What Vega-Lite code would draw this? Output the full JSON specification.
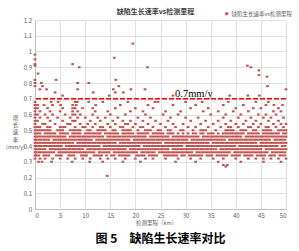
{
  "$schema": "https://vega.github.io/schema/vega-lite/v6.json",
  "width": 251,
  "height": 189,
  "autosize": {"type": "none"},
  "padding": {"left": 35, "top": 20, "right": 13, "bottom": 42},
  "background": "white",
  "title": {"text": "图 5　缺陷生长速率对比", "orient": "bottom", "anchor": "middle", "fontSize": 12, "fontWeight": "bold", "font": "Noto Sans CJK SC", "color": "#000000", "offset": 8},
  "config": {
    "view": {"stroke": null},
    "axis": {"gridColor": "#d9d9d9", "gridWidth": 0.8, "domainColor": "#bfbfbf", "ticks": false, "labelFont": "Noto Sans CJK SC", "labelFontSize": 6, "labelColor": "#595959", "titleFont": "Noto Sans CJK SC", "titleFontSize": 5.5, "titleColor": "#595959", "titleFontWeight": "normal"},
    "legend": {"labelFont": "Noto Sans CJK SC"}
  },
  "resolve": {"axis": {"x": "independent", "y": "independent"}},
  "layer": [
    {
      "data": {"values": [
        {"v": 0.46, "km": [0,0.5,1,1.5,2,2.5,3,3.5,4,4.5,5,5.5,6,7,7.5,8,8.5,9,9.5,10,10.5,11,11.5,12,12.5,13,13.5,14.5,15,15.5,16,16.5,17,17.5,18,18.5,19,19.5,20,20.5,21,21.5,22,23,23.5,24,24.5,25,25.5,26,26.5,27.5,28,28.5,29,29.5,30,30.5,31,31.5,32,32.5,33.5,34,34.5,35,35.5,36,36.5,37,37.5,38,38.5,39,39.5,40,40.5,41,42,42.5,43,43.5,44,44.5,45,45.5,46,46.5,47,47.5,48,48.5,49,49.5,50]},
        {"v": 0.44, "km": [0,0.25,0.75,1.25,1.75,2.25,2.75,3.75,4.25,4.75,5.25,5.75,6.25,6.75,7.25,7.75,8.25,8.75,9.25,9.75,10.25,10.75,11.25,12.25,12.75,13.25,13.75,14.25,14.75,15.25,15.75,16.25,16.75,17.25,17.75,18.25,18.75,19.75,20.25,20.75,21.25,21.75,22.25,22.75,23.25,23.75,24.25,24.75,25.25,25.75,26.25,26.75,27.25,27.75,28.25,28.75,29.25,29.75,30.25,31.25,31.75,32.25,32.75,33.25,33.75,34.25,34.75,35.25,35.75,36.25,36.75,37.25,37.75,38.75,39.25,39.75,40.25,40.75,41.25,41.75,42.25,42.75,43.25,43.75,44.25,44.75,45.25,45.75,46.25,46.75,47.75,48.25,48.75,49.25,49.75]},
        {"v": 0.42, "km": [0,0.5,1,1.5,2,2.5,3,3.5,4,4.5,5,5.5,6,6.5,7,7.5,8.5,9,9.5,10,10.5,11,11.5,12,12.5,13,13.5,14,14.5,15,15.5,16,17,17.5,18,18.5,19,19.5,20,20.5,21,21.5,22,22.5,23,23.5,24,24.5,25,26,26.5,27,27.5,28,28.5,29,29.5,30,30.5,31,31.5,32,32.5,33,33.5,34,34.5,35.5,36,36.5,37,37.5,38,38.5,39,39.5,40,40.5,41,41.5,42,42.5,43,43.5,44,45,45.5,46,46.5,47,47.5,48,48.5,49,49.5,50]},
        {"v": 0.40, "km": [0,0.25,0.75,1.25,1.75,2.25,2.75,3.25,3.75,4.25,4.75,5.25,6.25,6.75,7.25,7.75,8.25,8.75,9.25,9.75,10.25,10.75,11.25,11.75,12.25,12.75,13.75,14.25,14.75,15.25,15.75,16.25,16.75,17.25,17.75,18.25,18.75,19.25,19.75,20.25,20.75,21.75,22.25,22.75,23.25,23.75,24.25,24.75,25.25,25.75,26.25,26.75,27.25,27.75,28.25,28.75,29.25,30.25,30.75,31.25,31.75,32.25,32.75,33.25,33.75,34.25,34.75,35.25,35.75,36.25,36.75,37.25,37.75,38.25,38.75,39.25,39.75,40.75,41.25,41.75,42.25,42.75,43.25,43.75,44.25,44.75,45.25,45.75,46.25,46.75,47.25,47.75,48.25,49.25,49.75]},
        {"v": 0.38, "km": [0,0.5,1,1.5,2,3,3.5,4,4.5,5,5.5,6,6.5,7,7.5,8,8.5,9,9.5,10.5,11,11.5,12,12.5,13,13.5,14,14.5,15,15.5,16,16.5,17,17.5,18,19,19.5,20,20.5,21,21.5,22,22.5,23,23.5,24,24.5,25,25.5,26,26.5,27.5,28,28.5,29,29.5,30,30.5,31,31.5,32,32.5,33,33.5,34,34.5,35,35.5,36,37,37.5,38,38.5,39,39.5,40,40.5,41,41.5,42,42.5,43,43.5,44,44.5,45,46,46.5,47,47.5,48,48.5,49,49.5,50]},
        {"v": 0.36, "km": [0,0.25,0.75,1.25,1.75,2.25,2.75,3.25,3.75,4.75,5.25,5.75,6.25,6.75,7.25,7.75,8.25,8.75,9.25,9.75,10.25,10.75,11.25,11.75,12.75,13.25,13.75,14.25,14.75,15.75,16.25,16.75,17.25,17.75,18.25,18.75,19.25,19.75,20.25,21.25,21.75,22.25,22.75,23.25,23.75,24.75,25.25,25.75,26.25,26.75,27.25,27.75,28.25,28.75,29.25,29.75,30.25,30.75,31.25,32.25,32.75,33.25,33.75,34.25,34.75,35.25,35.75,36.25,36.75,37.25,37.75,38.25,38.75,39.75,40.25,40.75,41.25,41.75,42.25,42.75,43.25,43.75,44.25,44.75,45.25,45.75,46.25,47.25,47.75,48.25,48.75,49.25,49.75]},
        {"v": 0.48, "km": [0,0.5,1,2,2.5,3,3.5,4,5,5.5,6,6.5,7.5,8,8.5,9,10,10.5,11,11.5,12,12.5,13,14,14.5,15,15.5,16,16.5,17.5,18,18.5,19,19.5,20.5,21,21.5,22,22.5,23.5,24,24.5,25,25.5,26.5,27,27.5,28.5,29.5,30.5,31.5,32,33,33.5,34.5,35,35.5,36.5,37.5,38,38.5,39,39.5,40,40.5,41,41.5,42.5,43,43.5,44,44.5,45.5,46,46.5,47,47.5,48,48.5,49.5,50]},
        {"v": 0.34, "km": [0,0.25,0.75,1.75,2.25,2.75,4.25,4.75,5.25,6.75,7.25,7.75,9.25,9.75,10.25,11.75,12.25,12.75,13.25,14.25,15.25,15.75,16.75,17.25,17.75,18.25,18.75,20.25,20.75,21.25,21.75,22.75,23.25,23.75,24.25,25.75,26.25,26.75,27.25,27.75,28.25,29.25,29.75,30.75,31.25,31.75,32.25,32.75,33.25,34.25,34.75,35.25,36.25,36.75,37.25,37.75,38.25,39.25,39.75,40.25,40.75,41.75,42.25,42.75,43.25,44.25,44.75,45.25,45.75,46.75,47.25,47.75,48.75,49.25,49.75]},
        {"v": 0.50, "km": [0,0.5,1,1.5,2,2.5,3,4.5,5,5.5,7,7.5,8,8.5,9,10.5,11,12.5,13,13.5,14,15.5,16,17.5,18,18.5,19,20.5,22,22.5,23,24.5,25,26.5,27,29,29.5,31.5,33,33.5,34,36,38,38.5,39,39.5,41,41.5,42,43.5,44,45.5,46,46.5,47,48.5,49,49.5,50]},
        {"v": 0.52, "km": [0,0.5,1,2.5,3,5,5.5,6,8,9.5,10,11.5,13,13.5,15,17,17.5,19.5,21,21.5,23.5,26,28,30.5,32,34.5,37,38.5,39,40.5,42.5,43,44.5,46,46.5,48,49.5]},
        {"v": 0.54, "km": [0,1.5,2,4,6.5,7,9,10.5,12,14.5,16,18,18.5,20,22.5,25,27.5,29.5,33,35.5,38,40,41.5,43.5,45,47.5,49,50]},
        {"v": 0.56, "km": [0,0.5,3,5.5,7.5,8,11,13,15.5,17.5,19,21.5,24,26.5,31,34,36.5,39,42,44,46.5,48.5]},
        {"v": 0.58, "km": [0,1,2.5,4.5,7,8.5,10,12.5,14,16.5,20.5,23,27,30,32.5,37.5,40.5,43,45.5,47,49.5]},
        {"v": 0.60, "km": [0,0.5,2,3.5,6,7.5,8,9,11.5,15,18,22,25.5,28.5,35,38,41,44.5,46,48]},
        {"v": 0.62, "km": [0,1,3,5,7.5,8.5,12,14.5,19,21.5,26,29,33.5,36.5,39.5,42.5,47.5,49]},
        {"v": 0.64, "km": [0,0.5,2.5,5.5,7.5,8,9.5,11.5,16,20,23.5,31,34.5,40,43.5,45,48.5]},
        {"v": 0.66, "km": [0,0.5,1.8,3.5,5.1,7.5,8.2,12.1,17,22.5,27.5,32,37.5,41.5,46,47.6,49.3]},
        {"v": 0.68, "km": [0,3.2,4.6,8,8.4,10.7,13.5,18.5,23.9,24.5,30,33.3,38.5,44,46.5]},
        {"v": 0.32, "km": [0,1,2,3.5,5,6.5,8,9.5,11,13,14.5,16,18,20,22,23.5,26,28.5,31,33,35.5,37.5,40,42.5,44,45.5,47,48.5,50]},
        {"v": 0.30, "km": [0.7,1.4,3.3,7.4,10.9,13.5,17.5,21,28,32,36.5,41,45.5,49]},
        {"v": 0.28, "km": [37.5,38.3]},
        {"v": 0.27, "km": [38.0]},
        {"v": 0.21, "km": [14.4]},
        {"v": 0.72, "km": [5.5,14.8,27.5,38.8,42.4,44.7]},
        {"v": 0.74, "km": [4.0,11.6,16.0,17.6]},
        {"v": 0.76, "km": [1.0,2.3,8.5,15.6,19.1,21.9,50]},
        {"v": 0.78, "km": [0,1.5,16.7,46.3]},
        {"v": 0.80, "km": [0,1.26,8.5,10.7]},
        {"v": 0.82, "km": [0,4.2,16.1]},
        {"v": 0.84, "km": [46.2]},
        {"v": 0.85, "km": [44.6]},
        {"v": 0.86, "km": [0.6]},
        {"v": 0.88, "km": [44.6]},
        {"v": 0.90, "km": [8.8,22.4,43.0]},
        {"v": 0.91, "km": [0,42.3]},
        {"v": 0.92, "km": [0,7.5]},
        {"v": 0.95, "km": [0]},
        {"v": 0.96, "km": [15.8]},
        {"v": 0.98, "km": [0]},
        {"v": 1.05, "km": [19.5]}
      ]},
      "transform": [{"flatten": ["km"]}],
      "mark": {"type": "point", "shape": "M-1.35,-1H1.35V1H-1.35Z", "filled": true, "size": 4, "opacity": 1, "strokeWidth": 0},
      "encoding": {
        "x": {"field": "km", "type": "quantitative", "scale": {"domain": [0, 50], "nice": false},
          "axis": {"orient": "bottom", "values": [0,5,10,15,20,25,30,35,40,45,50], "grid": true, "labelPadding": 3, "title": "检测里程（km）", "titleX": 121, "titlePadding": 2}},
        "y": {"field": "v", "type": "quantitative", "scale": {"domain": [0, 1.2], "nice": false},
          "axis": {"values": [0,0.1,0.2,0.3,0.4,0.5,0.6,0.7,0.8,0.9,1,1.1,1.2], "format": ".2~f", "grid": true, "labelPadding": 3.5,
            "title": ["增", "长", "速", "率", "(mm/y)"], "titleAngle": 0, "titleAlign": "center", "titleBaseline": "bottom", "titleX": -20, "titleY": 100, "titleLineHeight": 7.4, "titleFontSize": 5.5}},
        "color": {"datum": "缺陷生长速率vs检测里程", "scale": {"range": ["#c0504d"]},
          "legend": {"orient": "none", "legendX": 189, "legendY": -9, "title": null, "padding": 0, "symbolType": "square", "symbolSize": 8, "symbolStrokeWidth": 0, "labelFontSize": 5.5, "labelColor": "#595959", "labelOffset": 2}}
      }
    },
    {
      "data": {"values": [{"v": 0.7}]},
      "mark": {"type": "rule", "color": "#ff0000", "strokeWidth": 1.5, "strokeDash": [5, 2]},
      "encoding": {"y": {"field": "v", "type": "quantitative", "axis": null}}
    },
    {
      "data": {"values": [{"km": 27.9, "v": 0.7, "label": "0.7mm/y"}]},
      "mark": {"type": "text", "align": "left", "baseline": "alphabetic", "dy": -2, "font": "Liberation Serif", "fontSize": 10.5, "color": "#000000"},
      "encoding": {
        "x": {"field": "km", "type": "quantitative",
          "axis": {"orient": "top", "title": "缺陷生长速率vs检测里程", "labels": false, "ticks": false, "domain": false, "grid": false, "titleFontSize": 7, "titleFontWeight": "bold", "titleColor": "#404040", "titlePadding": 6, "titleX": 120}},
        "y": {"field": "v", "type": "quantitative", "axis": null},
        "text": {"field": "label"}
      }
    }
  ]
}
